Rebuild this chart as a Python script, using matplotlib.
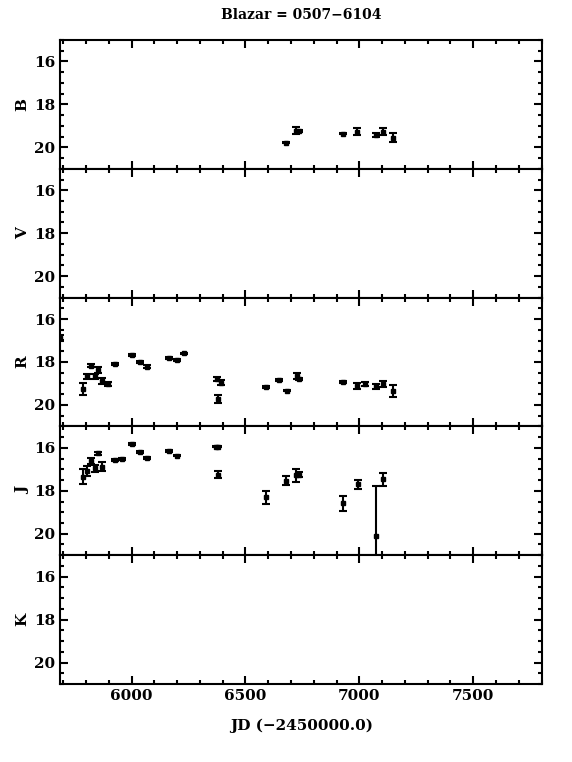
#!/usr/bin/env python3
"""Multi-band light curve of blazar 0507-6104 (B, V, R, J, K)."""

import matplotlib

matplotlib.use("Agg")
import matplotlib.pyplot as plt
from matplotlib.ticker import MultipleLocator

matplotlib.rcParams.update(
    {
        "font.family": ["DejaVu Serif"],
        "font.weight": "bold",
        "axes.titleweight": "bold",
        "axes.labelweight": "bold",
        "font.size": 11,
        "axes.linewidth": 1.5,
    }
)

# ---- data (JD - 2450000, magnitude, error) ----
b_jd = [6679, 6722, 6735, 6927, 6991, 7071, 7105, 7146]
b_mag = [19.78, 19.22, 19.25, 19.36, 19.27, 19.43, 19.27, 19.55]
b_err = [0.03, 0.15, 0.04, 0.04, 0.15, 0.11, 0.15, 0.20]

v_jd = []
v_mag = []
v_err = []

r_jd = [5686, 5787, 5806, 5823, 5838, 5854, 5869, 5898, 5928, 6000, 6038, 6066,
        6166, 6200, 6232, 6375, 6394, 6378, 6590, 6648, 6682, 6725, 6735, 6927,
        6991, 7025, 7073, 7105, 7146]
r_mag = [16.86, 19.27, 18.67, 18.17, 18.67, 18.37, 18.88, 19.02, 18.08, 17.69, 18.02, 18.22,
         17.80, 17.92, 17.60, 18.79, 18.96, 19.72, 19.16, 18.84, 19.33, 18.65, 18.80, 18.92,
         19.10, 19.01, 19.13, 19.02, 19.37]
r_err = [0.13, 0.27, 0.11, 0.08, 0.12, 0.12, 0.13, 0.08, 0.05, 0.04, 0.05, 0.07,
         0.04, 0.04, 0.04, 0.09, 0.11, 0.18, 0.05, 0.06, 0.04, 0.13, 0.05, 0.04,
         0.14, 0.09, 0.12, 0.13, 0.28]

j_jd = [5787, 5806, 5823, 5838, 5854, 5869, 5928, 5958, 6000, 6038, 6066, 6166,
        6200, 6372, 6380, 6378, 6591, 6679, 6723, 6736, 6930, 6993, 7073, 7105]
j_mag = [17.34, 17.08, 16.61, 16.95, 16.25, 16.87, 16.55, 16.50, 15.81, 16.20, 16.48, 16.14,
         16.36, 15.94, 15.94, 17.25, 18.31, 17.53, 17.28, 17.26, 18.58, 17.69, 20.11, 17.47]
j_err = [0.34, 0.22, 0.12, 0.16, 0.06, 0.20, 0.04, 0.05, 0.04, 0.06, 0.06, 0.04,
         0.04, 0.04, 0.04, 0.16, 0.29, 0.20, 0.29, 0.12, 0.35, 0.21, 2.32, 0.31]

k_jd = []
k_mag = []
k_err = []

BANDS = [
    ("B", b_jd, b_mag, b_err),
    ("V", v_jd, v_mag, v_err),
    ("R", r_jd, r_mag, r_err),
    ("J", j_jd, j_mag, j_err),
    ("K", k_jd, k_mag, k_err),
]


def main() -> None:
    fig, axes = plt.subplots(5, 1, figsize=(5.72, 7.62), dpi=100, sharex=True)
    fig.subplots_adjust(left=0.105, right=0.948, top=0.9475, bottom=0.1024, hspace=0)

    for ax, (name, jd, mag, err) in zip(axes, BANDS):
        if jd:
            ax.errorbar(jd, mag, yerr=err, fmt="s", color="black", ms=2.5,
                        elinewidth=1.5, capsize=3, capthick=1.5)
        ax.set_xlim(5686, 7803)
        ax.set_ylim(21, 15)
        ax.yaxis.set_minor_locator(MultipleLocator(0.5))
        ax.xaxis.set_major_locator(MultipleLocator(500))
        ax.xaxis.set_minor_locator(MultipleLocator(100))
        ax.set_yticks([16, 18, 20])
        ax.tick_params(which="both", direction="in", top=True, right=True, width=1.5)
        ax.tick_params(which="major", length=6)
        ax.tick_params(which="minor", length=3)
        ax.set_ylabel(name, labelpad=3)

    axes[-1].set_xlabel("JD (\u22122450000.0)", labelpad=11)
    axes[0].set_title("Blazar = 0507\u22126104", pad=15, fontsize=10)

    fig.savefig("out.png", dpi=100)
    plt.close(fig)


if __name__ == "__main__":
    main()
